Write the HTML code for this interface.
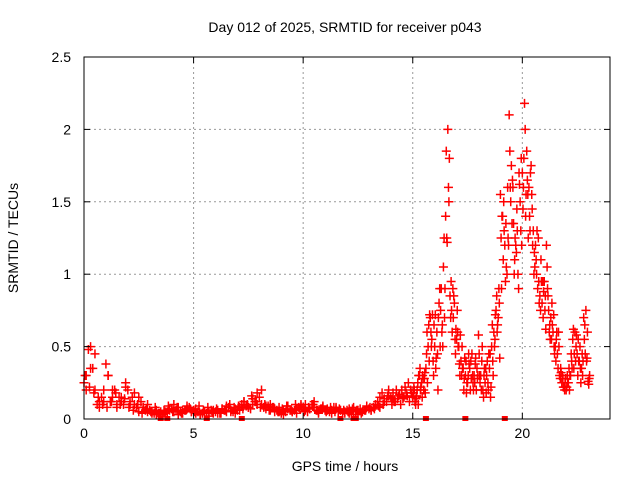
<!DOCTYPE html>
<html><head><meta charset="utf-8"><style>
body{margin:0;background:#fff;}
svg{display:block;font-family:"Liberation Sans",sans-serif;}
</style></head><body>
<svg id="c" width="640" height="480">
<rect x="0" y="0" width="640" height="480" fill="#fff"/>
<text x="345" y="32" font-size="14" text-anchor="middle">Day 012 of 2025, SRMTID for receiver p043</text>
<text x="345" y="471" font-size="14" text-anchor="middle">GPS time / hours</text>
<text x="18" y="238" font-size="14" text-anchor="middle" transform="rotate(-90 18 238)">SRMTID / TECUs</text>
<g id="grid"></g><g id="marks"></g><g id="axes"></g>
</svg>
<script>
const xTicks=[0,5,10,15,20];
const yTicks=[0,0.5,1,1.5,2,2.5];
const yTickLabels=["0","0.5","1","1.5","2","2.5"];
const seriesA=[0.25,0.3,0.48,0.5,0.35,0.2,0.1,0.12,0.15,0.2,
0.38,0.3,0.12,0.15,0.2,0.1,0.15,0.12,0.1,0.22,
0.2,0.12,0.15,0.1,0.08,0.15,0.12,0.08,0.06,0.05,
0.06,0.05,0.04,0.03,0.04,0.05,0.03,0.04,0.05,0.06,
0.07,0.05,0.06,0.08,0.05,0.04,0.06,0.07,0.08,0.05,
0.06,0.04,0.05,0.03,0.04,0.05,0.04,0.05,0.06,0.04,
0.05,0.06,0.04,0.07,0.06,0.05,0.08,0.06,0.05,0.07,
0.06,0.08,0.1,0.12,0.09,0.08,0.07,0.1,0.12,0.18,
0.15,0.1,0.08,0.07,0.09,0.06,0.08,0.07,0.06,0.05,
0.04,0.06,0.05,0.07,0.06,0.05,0.06,0.07,0.08,0.1,
0.08,0.06,0.05,0.07,0.1,0.08,0.06,0.05,0.07,0.08,
0.06,0.07,0.05,0.06,0.08,0.07,0.05,0.06,0.04,0.05,
0.06,0.04,0.05,0.03,0.05,0.06,0.07,0.05,0.06,0.08,
0.07,0.06,0.08,0.1,0.12,0.15,0.18,0.14,0.12,0.16,
0.15,0.18,0.12,0.14,0.17,0.2,0.15,0.18,0.25,0.2,
0.15,0.12,0.2,0.3,0.25,0.2,0.35,0.5,0.7,0.72,
0.5,0.6,0.8,0.9,1.05,1.4,2.0,0.85,0.6,0.8,
0.55,0.5,0.4,0.35,0.3,0.25,0.35,0.45,0.3,0.2,
0.58,0.3,0.2,0.25,0.4,0.35,0.5,0.6,0.75,0.7,
1.55,1.4,1.2,1.0,2.1,1.75,1.35,1.2,1.0,1.5,
1.7,2.18,1.85,1.6,1.75,1.3,1.2,0.9,0.85,0.8,
0.95,1.2,0.75,0.7,0.6,0.5,0.45,0.3,0.25,0.22,
0.2,0.25,0.3,0.55,0.6,0.45,0.4,0.35,0.7,0.75,
0.26];
const seriesB=[0.18,0.1,0.25,0.35,0.15,0.28,0.45,0.65,0.6,0.4,
0.72,0.45,0.9,0.6,1.25,1.85,1.6,0.7,0.9,0.55,
0.75,0.38,0.3,0.2,0.4,0.3,0.2,0.3,0.25,0.35,
0.45,0.2,0.15,0.35,0.25,0.45,0.65,0.5,0.85,0.9,
1.25,1.1,0.95,1.6,1.85,1.35,1.0,1.15,0.9,1.3,
1.45,2.0,1.65,1.4,1.55,1.0,1.1,1.25,0.75,0.95,
0.75,1.05,0.6,0.55,0.72,0.4,0.35,0.28,0.3,0.2,
0.22,0.35,0.45,0.62,0.4,0.3,0.5,0.45,0.55,0.4,
0.24];
const seriesC=[0.1,0.12,0.2,0.16,0.1,0.14,0.22,0.16,0.12,0.18,
0.22,0.14,0.1,0.2,0.3,0.32,0.6,0.4,0.5,0.3,
0.35,0.2,0.5,0.65,0.7,1.25,1.5,0.95,0.7,0.45,
0.6,0.3,0.5,0.28,0.18,0.45,0.4,0.25,0.38,0.28,
0.3,0.4,0.3,0.18,0.2,0.15,0.4,0.55,0.6,0.8,
0.9,1.5,1.35,1.25,1.6,1.65,1.1,1.45,1.7,1.8,
1.6,1.4,1.55,1.3,1.45,1.15,1.0,0.95,1.1,0.7,
0.85,0.9,0.65,0.8,0.5,0.55,0.6,0.35,0.28,0.25,
0.3,0.2,0.4,0.35,0.5,0.55,0.35,0.3,0.65,0.42,
0.28];
const seriesE=[0.2,0.16,0.3,0.22,0.28,0.18,0.25,0.72,0.55,0.65,
0.42,0.7,0.75,0.5,0.9,1.22,1.8,0.75,0.85,0.62,
0.5,0.58,0.35,0.42,0.25,0.38,0.28,0.2,0.42,0.3,
0.25,0.5,0.35,0.3,0.45,0.22,0.3,0.72,0.65,0.42,
1.4,1.3,1.05,1.2,1.5,1.6,1.25,1.3,1.62,1.2,
1.8,1.55,1.25,1.7,1.2,1.05,1.3,0.8,0.95,0.88,
0.62,0.85,0.55,0.65,0.45,0.6,0.5,0.32,0.22,0.28,
0.25,0.3,0.35,0.45,0.58,0.4,0.25,0.4,0.45,0.6,
0.3];
const seriesD=[0.2,0.35,0.45,0.08,0.12,0.3,0.2,0.08,0.15,0.25,
0.1,0.18,0.05,0.08,0.1,0.04,0.06,0.02,0.05,0.07,
0.1,0.03,0.06,0.09,0.05,0.07,0.03,0.05,0.02,0.06,
0.04,0.07,0.09,0.05,0.04,0.06,0.12,0.08,0.14,0.1,
0.2,0.09,0.1,0.05,0.08,0.03,0.09,0.05,0.04,0.09,
0.1,0.07,0.12,0.04,0.09,0.06,0.04,0.08,0.06,0.04,
0.07,0.08,0.03,0.05,0.09,0.06,0.1,0.08,0.12,0.2,
0.14];
const seriesF=[0.3,0.22,0.18,0.15,0.1,0.08,0.12,0.18,0.1,0.14,
0.08,0.06,0.1,0.04,0.07,0.05,0.08,0.04,0.06,0.09,
0.05,0.08,0.04,0.06,0.07,0.05,0.09,0.06,0.08,0.05,
0.07,0.04,0.06,0.1,0.08,0.09,0.07,0.1,0.16,0.12,
0.08,0.1,0.06,0.08,0.05,0.07,0.09,0.06,0.1,0.07,
0.05,0.08,0.1,0.06,0.07,0.05,0.08,0.05,0.07,0.06,
0.05,0.07,0.06,0.04,0.06,0.08,0.07,0.09,0.1,0.16,
0.12];
const zeroTimes=[3.5,3.8,5.6,7.2,11.7,12.3,12.4,15.6,17.4,19.2];

const L=84,R=610,T=57,B=419,XMAX=24,YMAX=2.5;
const sx=v=>L+v/XMAX*(R-L);
const sy=v=>B-v/YMAX*(B-T);
const NS="http://www.w3.org/2000/svg";
const grid=document.getElementById('grid'),marks=document.getElementById('marks'),axes=document.getElementById('axes');
function mk(tag,attrs,parent){const e=document.createElementNS(NS,tag);for(const k in attrs)e.setAttribute(k,attrs[k]);parent.appendChild(e);return e;}

xTicks.forEach(v=>{
  if(v>0){const g=mk('line',{x1:sx(v),x2:sx(v),y1:T,y2:B,stroke:'#999','stroke-dasharray':'2,3'},grid);
  
  }
  mk('line',{x1:sx(v),x2:sx(v),y1:B,y2:B-6,stroke:'#000'},axes);
  mk('line',{x1:sx(v),x2:sx(v),y1:T,y2:T+6,stroke:'#000'},axes);
  const t=mk('text',{x:sx(v),y:B+19,'font-size':14,'text-anchor':'middle'},axes);
  t.textContent=String(v);
  
  
});
yTicks.forEach((v,i)=>{
  if(v>0&&v<YMAX){const g=mk('line',{x1:L,x2:R,y1:sy(v),y2:sy(v),stroke:'#999','stroke-dasharray':'2,3'},grid);
  
  }
  mk('line',{x1:L,x2:L+6,y1:sy(v),y2:sy(v),stroke:'#000'},axes);
  mk('line',{x1:R,x2:R-6,y1:sy(v),y2:sy(v),stroke:'#000'},axes);
  const t=mk('text',{x:L-13,y:sy(v)+5,'font-size':14,'text-anchor':'end'},axes);
  t.textContent=yTickLabels[i];
  
  
});
const frame=mk('rect',{x:L,y:T,width:R-L,height:B-T,fill:'none',stroke:'#000'},axes);



function plus(t,v){
  const x=sx(t),y=sy(v);
  const p=mk('path',{d:`M${x-4.5},${y}H${x+4.5}M${x},${y-4.5}V${y+4.5}`,stroke:'#f00','stroke-width':1.5,fill:'none'},marks);
  
  
}
seriesD.forEach((v,i)=>plus(i*0.2+0.1,v));
seriesF.forEach((v,i)=>plus(i*0.2+0.05,v));
seriesC.forEach((v,i)=>plus(14+i*0.1+0.05,v));
seriesE.forEach((v,i)=>plus(15+i*0.1+0.07,v));
seriesB.forEach((v,i)=>plus(15+i*0.1+0.03,v));
seriesA.forEach((v,i)=>plus(i*0.1,v));
zeroTimes.forEach(t=>{
  const r=mk('rect',{x:sx(t)-3,y:B-3,width:6,height:5,fill:'#f00'},marks);
  
  
});
</script>
</body></html>
